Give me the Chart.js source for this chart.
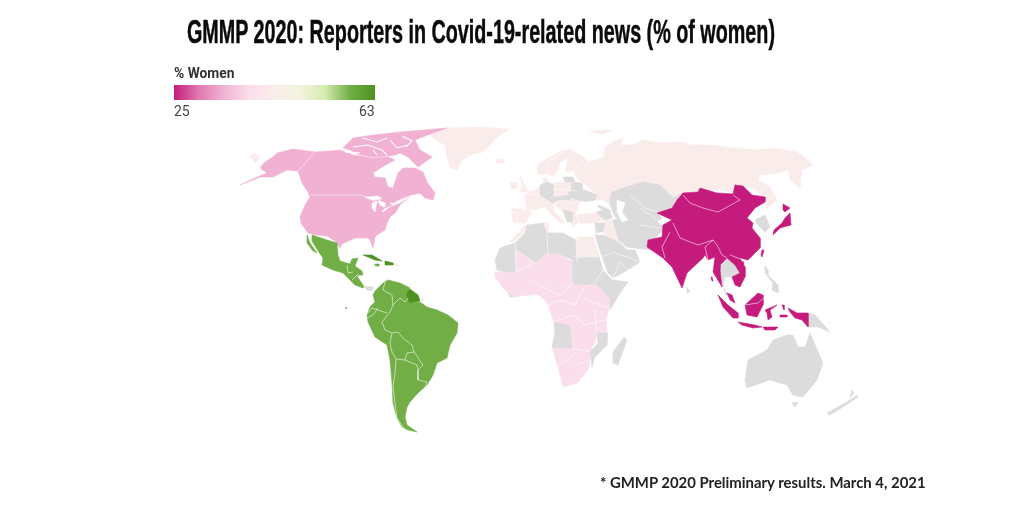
<!DOCTYPE html>
<html><head><meta charset="utf-8">
<script src="https://cdn.jsdelivr.net/npm/chart.js@4"></script>
<style>
html,body{margin:0;padding:0;background:#fff;width:1024px;height:512px;overflow:hidden}
#c{position:absolute;left:0;top:0}
.t{position:absolute;white-space:nowrap;line-height:1}
#title{left:187px;top:13px;font:bold 33px "Liberation Sans Narrow","Liberation Sans",sans-serif;color:#0a0a0a;-webkit-text-stroke:.5px #0a0a0a;transform-origin:0 0}
#lt{left:174px;top:65px;font:bold 13.8px Roboto,sans-serif;color:#333}
#bar{position:absolute;left:174px;top:85px;width:201px;height:15px}
#l0{left:174px;top:103px;font:14px Roboto,sans-serif;color:#444}
#l1{left:359px;top:103px;font:14px Roboto,sans-serif;color:#444}
#note{left:600px;top:473px;font:bold 14.9px Lato,sans-serif;color:#222}
</style></head><body>
<canvas id="c" width="1024" height="512"></canvas>
<div class="t" id="title">GMMP 2020: Reporters in Covid-19-related news (% of women)</div>
<div class="t" id="lt">% Women</div><div id="bar"></div>
<div class="t" id="l0">25</div><div class="t" id="l1">63</div>
<div class="t" id="note">* GMMP 2020 Preliminary results. March 4, 2021</div>
<script>
// Colour scale of the map legend (% of women reporters)
const scaleMin = 25, scaleMax = 63;
const scaleColors = ['#c51b7d','#e07bb0','#f1b3d4','#fbdeeb','#faeeea','#f3f3df','#d6ebb0','#72ae46','#4d9221'];
// % of women per region
const valNorthAmerica = 34.3, valEurope = 43.4, valAfrica = 39.25, valAsia = 25, valLatin = 58.25, valGuianas = 63;
const noData = '#dcdcdc';

const northAmerica = [
 [[315,152],[330,151],[340,150],[353,155],[373,158],[388,157],[395,160],[382,167],[373,173],[375,177],[385,178],[388,187],[393,188],[398,173],[403,168],[415,168],[423,172],[427,182],[435,193],[433,200],[425,198],[420,193],[412,195],[403,202],[400,205],[395,213],[390,217],[387,223],[385,230],[377,235],[375,237],[373,248],[370,240],[368,238],[355,238],[342,244],[340,248],[335,241],[327,236],[317,235],[308,233],[301,223],[300,217],[305,205],[310,197],[308,192],[302,183],[298,171],[287,170],[273,177],[260,177],[240,185],[255,178],[267,173],[260,168],[265,162],[273,157],[277,153],[293,149]],
 [[343,148],[353,138],[373,135],[400,132],[447,128],[425,136],[415,140],[420,150],[432,157],[425,162],[418,167],[408,157],[400,153],[395,155],[388,156],[373,157],[360,155],[350,150]]
];
const greatLakes = [
 [[365,197],[378,196],[382,199],[372,200]],
 [[372,203],[377,201],[375,212],[372,208]],
 [[378,200],[385,203],[385,207],[380,205]],
 [[382,211],[390,206],[387,209],[383,212]],
 [[390,203],[397,203],[393,206]],
 [[395,202],[412,195],[398,204]]
];
const usBorders = [
 [[315,152],[298,171]],
 [[310,195],[362,195],[367,198],[380,203],[385,209],[398,203]]
];
const channels = [
 [[353,147],[368,145],[382,150],[387,155]],
 [[363,138],[377,142],[387,138]],
 [[390,140],[397,148],[408,145]],
 [[373,150],[377,155]],
 [[345,152],[360,153]],
 [[402,136],[412,141],[406,147]]
];
const europeRussia = [
 [[537,168],[538,165],[548,158],[560,151],[570,149],[582,156],[588,162],[603,158],[605,147],[613,142],[623,138],[620,145],[633,145],[643,140],[657,143],[680,142],[693,145],[713,145],[733,148],[757,150],[773,148],[797,152],[808,160],[813,165],[802,170],[800,188],[790,180],[788,170],[778,173],[760,175],[758,180],[770,187],[777,200],[767,208],[765,198],[753,188],[740,186],[737,185],[733,192],[720,190],[700,190],[697,192],[680,195],[673,198],[660,185],[643,182],[623,188],[612,192],[610,198],[615,208],[603,200],[595,200],[597,195],[583,183],[575,175],[575,170],[567,172],[565,170],[567,165],[567,158],[560,162],[558,170],[553,177],[548,174],[538,174]],
 [[430,135],[447,128],[480,127],[510,129],[505,132],[497,137],[490,145],[483,152],[470,155],[462,160],[457,170],[450,167],[446,155],[445,145],[436,140]],
 [[250,156],[255,153],[260,158],[255,163]],
 [[495,160],[505,159],[503,163],[497,163]],
 [[520,175],[523,182],[529,192],[520,192],[522,185]],
 [[510,183],[517,182],[517,188],[511,189]],
 [[543,178],[547,178],[547,182],[543,182]],
 [[525,195],[538,188],[548,183],[570,182],[583,190],[580,202],[578,210],[575,213],[578,222],[573,227],[570,220],[563,212],[553,203],[545,207],[542,208],[533,210],[527,210],[525,200]],
 [[512,208],[527,210],[532,213],[525,223],[515,223],[512,218]],
 [[545,202],[553,203],[553,210],[565,223],[560,223],[550,213],[545,207]],
 [[577,215],[602,212],[610,215],[608,220],[592,223],[580,223]],
 [[605,220],[612,220],[618,242],[610,240],[603,232]],
 [[510,242],[525,225],[527,226],[523,233],[515,241]],
 [[543,223],[548,222],[549,235],[547,235]],
 [[577,237],[593,237],[600,257],[577,257]],
 [[420,296],[425,299],[422,302]],
 [[395,264],[398,264],[398,266],[395,266]],
 [[590,131],[613,130],[603,134]]
];
const africa = [
 [[516,250],[535,263],[548,253],[557,253],[573,262],[573,283],[585,285],[595,282],[610,298],[609,308],[606,320],[607,333],[597,333],[595,342],[592,347],[590,360],[588,370],[577,383],[563,387],[558,367],[552,347],[555,333],[554,322],[548,305],[545,300],[537,294],[513,297],[503,288],[495,277],[495,272],[505,272],[516,272]]
];
const asia = [
 [[683,193],[698,192],[700,188],[717,193],[733,194],[735,185],[743,186],[752,195],[765,197],[765,202],[755,208],[747,218],[753,223],[752,228],[760,238],[760,248],[748,260],[740,258],[745,267],[745,277],[740,287],[735,285],[732,277],[740,273],[735,265],[727,258],[720,265],[720,270],[722,287],[713,272],[715,257],[708,260],[705,255],[703,258],[687,273],[682,288],[672,267],[663,258],[647,247],[648,240],[662,237],[663,225],[672,220],[657,213],[672,208],[677,200]],
 [[741,262],[744,262],[743,265],[741,265]],
 [[762,250],[764,250],[762,257],[761,255]],
 [[790,213],[791,225],[780,228],[773,235],[774,230],[782,223],[785,218]],
 [[783,204],[790,208],[785,212],[783,210]],
 [[718,295],[728,305],[738,313],[738,318],[733,318],[723,307]],
 [[727,293],[732,295],[735,303],[730,300]],
 [[738,322],[755,325],[762,327],[753,328],[742,325]],
 [[763,327],[778,327],[775,330],[765,330]],
 [[745,305],[758,293],[763,295],[763,305],[757,317],[747,315]],
 [[765,310],[777,305],[770,310],[772,317],[768,320],[767,313]],
 [[782,305],[784,305],[784,310]],
 [[780,315],[787,315],[787,317],[780,317]],
 [[788,308],[797,313],[808,313],[808,327],[802,320],[795,318],[790,312]],
 [[711,277],[712,277],[713,281],[712,281]]
];
const latinAmerica = [
 [[312,235],[327,240],[337,243],[338,255],[340,261],[350,264],[352,259],[358,258],[355,266],[362,271],[363,275],[357,276],[363,285],[363,288],[355,285],[343,273],[333,270],[322,265],[323,258],[318,251],[312,241]],
 [[307,235],[310,243],[317,253],[313,251],[307,243]],
 [[375,264],[379,264],[379,266],[375,266]],
 [[375,291],[383,283],[388,280],[400,283],[410,288],[407,292],[407,298],[410,303],[420,302],[427,307],[437,310],[448,315],[458,323],[457,333],[450,345],[447,358],[437,363],[433,375],[427,385],[418,393],[410,402],[407,407],[405,417],[407,425],[417,432],[408,430],[402,427],[397,418],[393,403],[392,383],[390,360],[387,345],[375,337],[368,322],[367,315],[370,307],[375,302],[373,295]],
 [[345.5,307.5],[346.5,307.5],[346.5,308.5],[345.5,308.5]]
];
const guianas = [
 [[407,292],[410,289],[418,295],[420,301],[410,303],[407,298]],
 [[385,261],[393,263],[393,265],[385,265]],
 [[363,255],[372,255],[382,261],[375,260],[368,257]]
];
const noDataAreas = [
 [[495,260],[500,248],[515,243],[516,272],[505,272],[497,270]],
 [[515,243],[525,233],[527,225],[543,223],[547,235],[548,252],[535,263],[516,250]],
 [[547,233],[563,233],[576,240],[577,262],[557,253],[548,253]],
 [[573,257],[599,257],[603,270],[595,283],[585,285],[573,284]],
 [[603,270],[613,280],[628,282],[620,293],[610,310],[610,298],[595,283]],
 [[554,322],[570,326],[572,348],[552,347],[555,333]],
 [[597,333],[608,333],[607,345],[595,357],[592,367],[590,352],[598,343]],
 [[624,337],[627,340],[618,365],[613,363],[613,352]],
 [[508,292],[513,297],[510,297]],
 [[595,235],[603,235],[620,243],[627,250],[635,250],[640,262],[628,270],[613,278],[608,273],[602,257]],
 [[595,223],[605,223],[603,232],[596,233]],
 [[612,220],[628,218],[643,223],[657,227],[647,243],[650,250],[627,247],[618,240]],
 [[612,192],[623,188],[643,182],[660,185],[673,198],[680,195],[672,207],[657,212],[662,218],[657,222],[665,228],[655,238],[647,243],[657,227],[643,223],[628,218],[618,220],[614,215],[610,205],[610,198]],
 [[598,205],[610,210],[612,218],[605,220],[597,213]],
 [[572,182],[582,183],[583,190],[571,190]],
 [[568,192],[585,190],[597,195],[595,200],[585,202],[577,200],[570,197]],
 [[563,177],[573,177],[575,182],[570,182],[565,182]],
 [[540,185],[547,182],[553,185],[553,197],[545,198],[540,195]],
 [[545,198],[555,197],[570,195],[570,200],[558,200],[553,203]],
 [[563,210],[572,212],[572,222],[567,222]],
 [[755,220],[765,215],[770,227],[765,232],[758,225]],
 [[720,265],[727,258],[735,265],[740,272],[732,277],[725,277],[723,287],[728,295],[726,295],[720,278]],
 [[765,265],[768,270],[768,275],[778,285],[778,293],[772,290],[773,283],[765,273]],
 [[687,287],[690,292],[687,293]],
 [[808,313],[815,315],[830,332],[818,327],[808,327]],
 [[787,335],[793,335],[798,347],[805,347],[810,333],[823,363],[817,380],[803,397],[793,395],[787,385],[770,380],[747,388],[745,380],[748,360],[767,350],[773,340]],
 [[792,403],[798,402],[795,407]],
 [[827,413],[847,402],[857,395],[858,397],[843,407],[830,415]],
 [[852,390],[854,393],[850,398]],
 [[363,286],[373,287],[372,291],[367,290]],
 [[700,244],[705,244],[705,246],[700,246]]
];
const waters = [
 [[617,200],[625,203],[622,212],[628,220],[622,222],[617,212]],
 [[580,202],[590,202],[602,210],[592,212],[578,210]],
 ...greatLakes
];
const borders = [
 ...usBorders,
 [[385,282],[383,290],[392,295],[393,305]],
 [[393,305],[400,298],[405,302],[408,298]],
 [[393,305],[390,312],[382,322],[385,330],[392,333]],
 [[367,314],[372,308],[378,310],[387,313]],
 [[367,318],[373,315],[378,308]],
 [[392,333],[390,343],[392,352],[396,359]],
 [[392,333],[398,332],[403,338],[412,345],[414,352],[407,353],[405,360]],
 [[405,360],[417,365],[418,370],[423,365],[414,352]],
 [[396,359],[395,373],[393,387],[395,403],[397,418],[405,430]],
 [[396,359],[405,360]],
 [[418,370],[418,380],[427,382],[425,387]],
 [[347,265],[348,273],[353,272]],
 [[352,280],[357,275],[362,276]],
 [[683,195],[690,203],[703,208],[718,212],[740,200],[733,195]],
 [[673,223],[680,238],[698,245],[713,240],[717,245],[722,255],[727,258]],
 [[670,232],[662,247],[665,258]],
 [[713,240],[705,247],[708,260]],
 [[730,255],[743,260]],
 [[745,305],[758,303],[765,297]],
 [[515,272],[535,263]],[[548,305],[560,300],[575,305],[585,285]],
 [[573,283],[560,295],[548,290],[530,280]],
 [[554,322],[573,315],[585,325],[606,320]],
 [[572,348],[590,352]],[[575,365],[590,360]],[[558,367],[577,352]],
 [[582,298],[609,308]],[[595,310],[597,333]],
 [[640,208],[653,217],[663,223]],[[630,195],[645,208],[657,212]],[[640,225],[660,228]],
 [[575,170],[582,160]],[[548,172],[548,162],[563,152]],
 [[540,195],[525,195]],[[540,185],[535,190]],[[553,190],[571,190]],[[565,200],[575,204],[578,200]],
 [[512,212],[518,212],[516,222]],
 [[515,243],[516,272]],[[547,233],[548,253]],[[576,240],[577,262]],[[516,250],[535,263]],
 [[573,257],[599,257]],[[603,270],[595,283]],[[613,280],[603,270]],
 [[602,257],[613,252],[640,262]],[[613,278],[620,262],[628,270]],
 [[612,220],[618,240]],[[597,233],[603,232]]
];
const fillGroups = [
 [africa, valAfrica], [europeRussia, valEurope], [northAmerica, valNorthAmerica],
 [noDataAreas, null], [asia, valAsia], [latinAmerica, valLatin], [guianas, valGuianas]
];

function hex(c){return [1,3,5].map(i=>parseInt(c.substr(i,2),16));}
function valueColor(v){
  if(v===null) return noData;
  const t=Math.min(.9999,Math.max(0,(v-scaleMin)/(scaleMax-scaleMin)))*(scaleColors.length-1);
  const i=Math.floor(t),f=t-i,a=hex(scaleColors[i]),b=hex(scaleColors[i+1]);
  return 'rgb('+a.map((x,k)=>Math.round(x+(b[k]-x)*f)).join(',')+')';
}
const toPts=p=>p.map(q=>({x:q[0],y:q[1]}));
const layers=[];
fillGroups.forEach(([polys,v])=>{const col=valueColor(v);polys.forEach(p=>layers.push({
  type:'scatter',showLine:true,fill:false,data:toPts([...p,p[0]]),polyFill:col,borderColor:col,borderWidth:.6,pointRadius:0,tension:0}));});
waters.forEach(p=>layers.push({type:'scatter',showLine:true,fill:false,data:toPts([...p,p[0]]),polyFill:'#fff',borderColor:'#fff',borderWidth:.5,pointRadius:0}));
channels.forEach(p=>layers.push({type:'scatter',showLine:true,fill:false,data:toPts(p),borderColor:'#fff',borderWidth:1.1,pointRadius:0}));
borders.forEach(p=>layers.push({type:'scatter',showLine:true,fill:false,data:toPts(p),borderColor:'rgba(255,255,255,.62)',borderWidth:.9,pointRadius:0}));

const polygonFill={id:'polygonFill',beforeDatasetDraw(chart,args){
  const ds=chart.data.datasets[args.index];if(!ds.polyFill)return;
  const pts=chart.getDatasetMeta(args.index).data,ctx=chart.ctx;
  ctx.save();ctx.beginPath();pts.forEach((p,i)=>i?ctx.lineTo(p.x,p.y):ctx.moveTo(p.x,p.y));
  ctx.closePath();ctx.fillStyle=ds.polyFill;ctx.fill();ctx.restore();
}};
new Chart(document.getElementById('c'),{
  type:'scatter',
  data:{datasets:layers.reverse()},
  options:{responsive:false,animation:false,events:[],devicePixelRatio:1,layout:{padding:0},
    plugins:{legend:{display:false},tooltip:{enabled:false}},
    scales:{x:{type:'linear',display:false,min:0,max:1024},y:{type:'linear',display:false,min:0,max:512,reverse:true}}},
  plugins:[polygonFill]
});
document.getElementById('bar').style.background='linear-gradient(to right,'+scaleColors.join(',')+')';
const ti=document.getElementById('title');
ti.style.transform='scaleX('+(588/ti.getBoundingClientRect().width)+')';
</script>
</body></html>
